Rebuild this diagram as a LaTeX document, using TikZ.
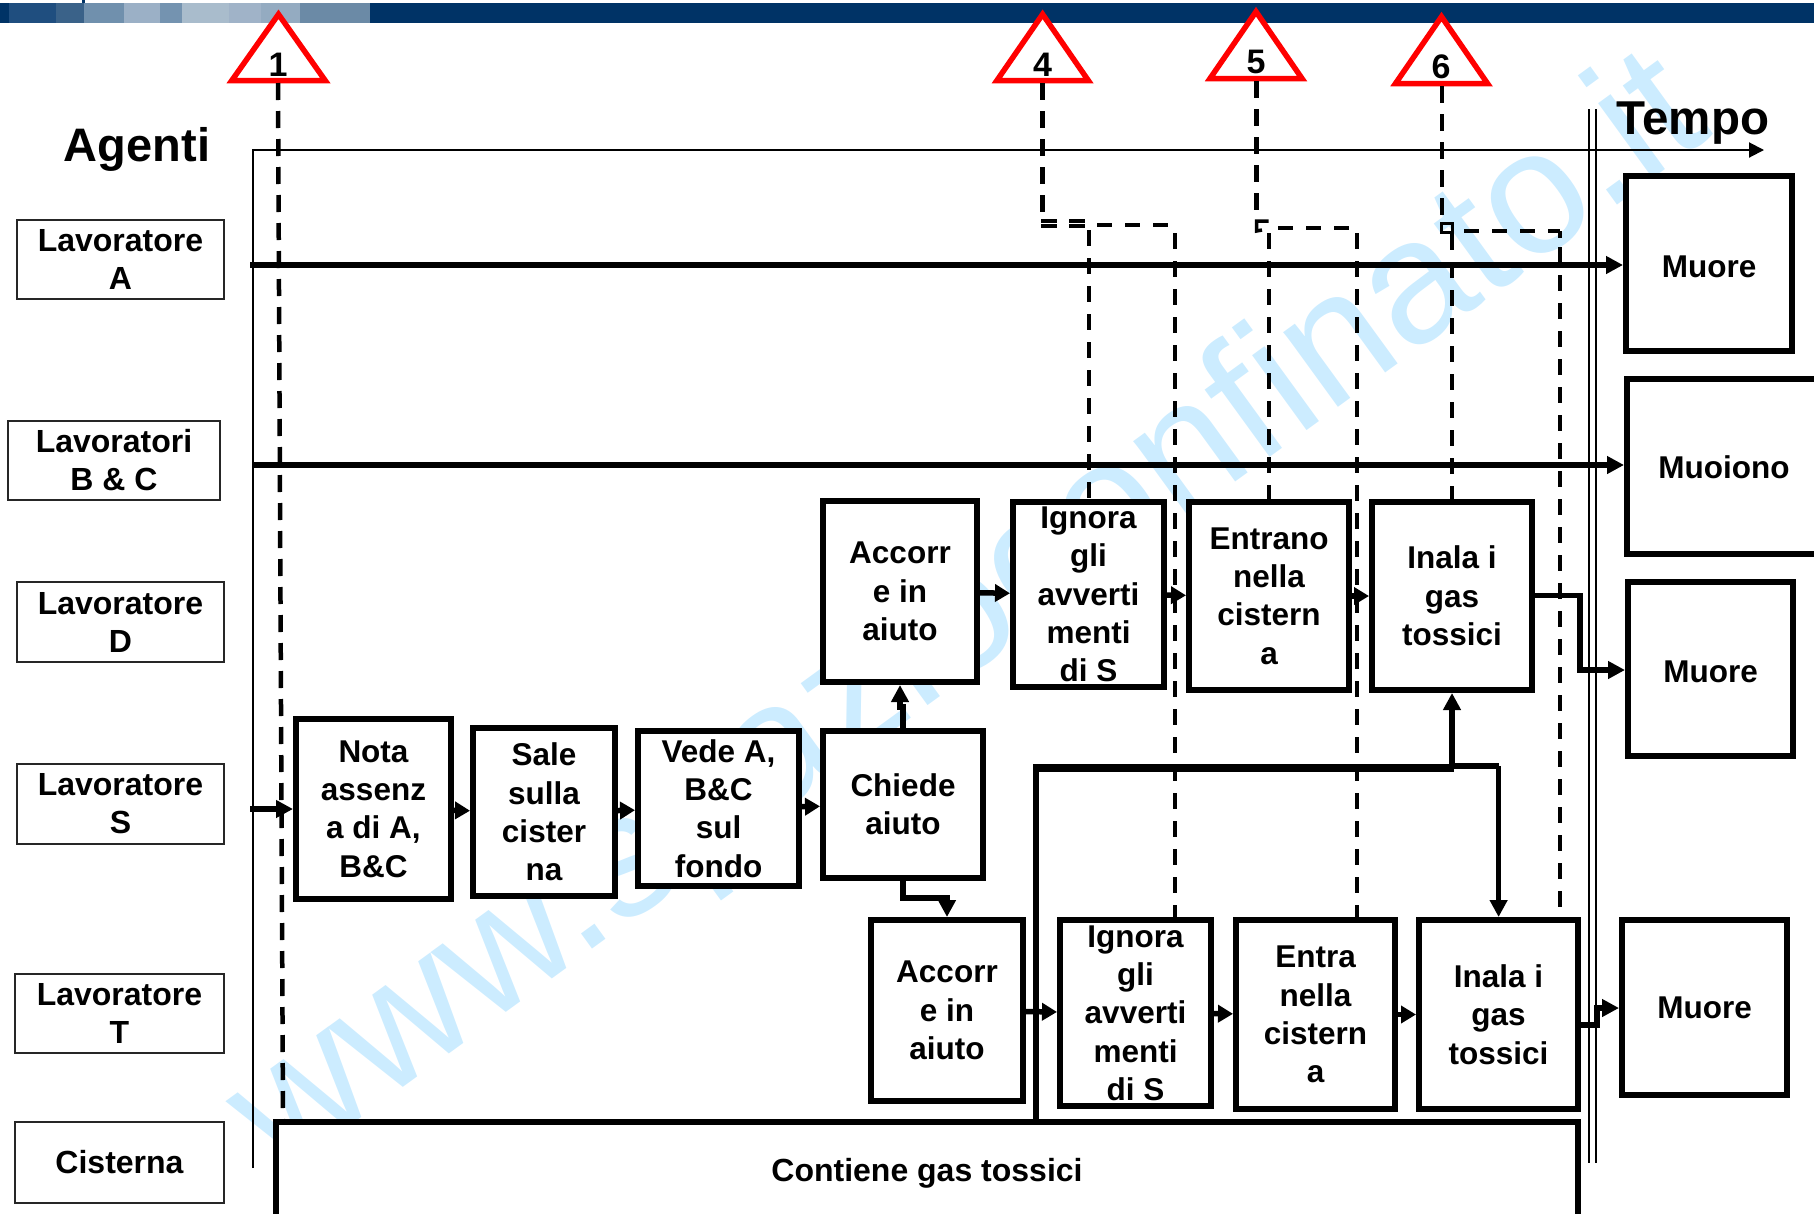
\documentclass[tikz,border=0pt]{standalone}
\usepackage{fontspec}
\setmainfont{Liberation Sans}
\usetikzlibrary{arrows.meta,calc}
\definecolor{navy}{HTML}{003366}
\definecolor{wm}{HTML}{CCECFF}
\tikzset{
  bx/.style={draw=black,line width=6pt,fill=white,inner sep=0pt,align=center,font=\fontsize{31.5}{38.3}\bfseries\selectfont},
  agentbx/.style={draw=black!85,line width=2pt,fill=white,inner sep=0pt,align=center,font=\fontsize{32}{38}\bfseries\selectfont},
  tri/.style={draw=red,line width=5.5pt,fill=white,line join=miter},
  num/.style={inner sep=0pt,font=\fontsize{34}{34}\bfseries\selectfont},
  dmain/.style={line width=4.5pt,dash pattern=on 17pt off 11pt},
  dbranch/.style={line width=4pt,dash pattern=on 16pt off 12pt},
  dhoriz/.style={line width=4pt,dash pattern=on 15pt off 13pt},
  hook/.style={line width=3.5pt},
  frameline/.style={line width=2pt},
  thick arrow/.style={line width=5.5pt,-{Triangle[length=17pt,width=17pt]}},
  head only/.style={line width=5.5pt,-{Triangle[length=15pt,width=17pt]}},
}
\newcommand{\bxn}[6]{\node[bx,minimum width={(#4-#2-6)*1pt},minimum height={(#5-#3-6)*1pt}] (#1) at ({(#2+#4)/2},{(#3+#5)/2}) {#6};}
\newcommand{\agn}[6]{\node[agentbx,minimum width={(#4-#2-2)*1pt},minimum height={(#5-#3-2)*1pt}] (#1) at ({(#2+#4)/2},{(#3+#5)/2}) {#6};}
\newcommand{\lowered}[2]{\raisebox{\dimexpr-11.3pt-#1\relax}[0pt][0pt]{#2}}
\begin{document}
\begin{tikzpicture}[x=1pt,y=-1pt]
\useasboundingbox (0,0) rectangle (1814,1213);
\clip (0,0) rectangle (1814,1213);
% watermark
\node[inner sep=0pt,rotate=36,text=wm,font=\fontsize{175.3}{176}\selectfont] (wmark) at (971,618.6) {www.spazioconfinato.it};
% top bar
\fill[navy] (0,3) rectangle (1814,23);
\foreach \a/\b/\c in {9/56/1F4E7F,56/84/3A6289,84/124/7090AD,124/160/9BB0C6,160/182/7493B0,182/229/A9BCCC,229/261/A0B3C8,261/300/94ABC1,300/370/6B8AA6}{
  \definecolor{pc}{HTML}{\c}\fill[pc] (\a,3) rectangle (\b,23);}
\fill[navy] (82,0) rectangle (84.5,3);
% triangles
\draw[tri] (278.5,14.3) -- (231.8,80.5) -- (325.2,80.5) -- cycle;
\draw[tri] (1042.6,14.3) -- (996.9,80.5) -- (1088.3,80.5) -- cycle;
\draw[tri] (1256,11.7) -- (1210,78.5) -- (1302,78.5) -- cycle;
\draw[tri] (1441.5,16.7) -- (1395.5,83.5) -- (1487.5,83.5) -- cycle;
\coordinate (t1) at (278,83);
\coordinate (t4) at (1042.6,83);
\coordinate (t5) at (1256.5,81);
\coordinate (t6) at (1442,86);
% frame lines
\coordinate (fb) at (253,1168);
\coordinate (fc) at (253,150);
\coordinate (fe) at (1764,150);
\draw[frameline,-{Triangle[length=15pt,width=15pt]}] (fb) -- (fc) -- (fe);
\coordinate (v1a) at (1589,109); \coordinate (v1b) at (1589,1163);
\coordinate (v2a) at (1595.5,109); \coordinate (v2b) at (1595.5,1163);
\draw[frameline] (v1a) -- (v1b);
\draw[frameline] (v2a) -- (v2b);
% agent boxes
\agn{la}{16}{219}{225}{300}{Lavoratore\\A}
\agn{lb}{7}{420}{221}{501}{Lavoratori\\B \& C}
\agn{ld}{16}{581}{225}{663}{Lavoratore\\D}
\agn{ls}{16}{763}{225}{845}{Lavoratore\\S}
\agn{lt}{14}{973}{225}{1054}{Lavoratore\\T}
\agn{lc}{14}{1121}{225}{1204}{Cisterna}
\node[inner sep=0pt,font=\fontsize{47}{47}\bfseries\selectfont] (agenti) at (137,149) {Agenti};
\node[inner sep=0pt,font=\fontsize{47.5}{47.5}\bfseries\selectfont] (tempo) at (1693,123.5) {Tempo};
% process boxes
\bxn{nota}{293}{716}{454}{902}{Nota\\assenz\\a di A,\\B\&C}
\bxn{sale}{470}{725}{618}{899}{Sale\\sulla\\cister\\na}
\bxn{vede}{635}{728}{802}{889}{Vede A,\\B\&C\\sul\\fondo}
\bxn{chiede}{820}{728}{986}{881}{Chiede\\aiuto}
\bxn{acc1}{820}{498}{980}{685}{Accorr\\e in\\aiuto}
\bxn{ign1}{1010}{499}{1167}{690}{Ignora\\gli\\avverti\\menti\\di S}
\bxn{ent1}{1186}{499}{1352}{693}{Entrano\\nella\\cistern\\a}
\bxn{ina1}{1369}{499}{1535}{693}{Inala i\\gas\\tossici}
\bxn{acc2}{868}{917}{1026}{1104}{Accorr\\e in\\aiuto}
\bxn{ign2}{1057}{917}{1214}{1109}{Ignora\\gli\\avverti\\menti\\di S}
\bxn{ent2}{1233}{917}{1398}{1112}{Entra\\nella\\cistern\\a}
\bxn{ina2}{1416}{917}{1581}{1112}{Inala i\\gas\\tossici}
\bxn{m1}{1623}{173}{1795}{354}{\lowered{2.5pt}{Muore}}
\bxn{m2}{1624}{376}{1824}{557}{\lowered{1pt}{Muoiono}}
\bxn{m3}{1625}{579}{1796}{759}{\lowered{2pt}{Muore}}
\bxn{m4}{1619}{917}{1790}{1098}{\lowered{0pt}{Muore}}
\bxn{cis}{273}{1119}{1581}{1223}{\lowered{-1pt}{\fontsize{32}{38}\selectfont Contiene gas tossici}}
% dashed alarm lines
\coordinate (c1end) at (283,1120);
\draw[dmain] (t1) -- (c1end);
% alarm 4
\coordinate (j4) at (1042.6,216);
\coordinate (j4a) at (1041,221);
\coordinate (j4b) at (1041,226);
\coordinate (j4c) at (1086,221);
\coordinate (j4d) at (1086,226);
\coordinate (j4e) at (1097,225);
\coordinate (j4f) at (1170,225);
\coordinate (j4r) at (1174.5,233);
\coordinate (b4) at (1088,230);
\draw[dmain] (t4) -- (j4);
\draw[hook,dash pattern=on 16pt off 12pt] (j4a) -- (j4c);
\draw[hook,dash pattern=on 16pt off 12pt] (j4b) -- (j4d);
\draw[dhoriz] (j4e) -- (j4f);
\draw[dbranch] (ign1.north |- b4) -- (ign1.north);
\draw[dbranch] (j4r) -- (j4r |- ign2.north);
% alarm 5
\coordinate (j5) at (1256.5,220);
\coordinate (k5a) at (1256.5,231);
\coordinate (k5b) at (1256.5,221);
\coordinate (k5c) at (1268.5,221);
\coordinate (k5d) at (1262,230);
\coordinate (j5s) at (1278,228);
\coordinate (j5e) at (1350,228);
\coordinate (j5r) at (1356.7,233);
\coordinate (b5) at (1268.4,233);
\draw[dmain] (t5) -- (j5);
\draw[hook] (k5c) -- (k5b) -- (k5a) -- (k5d);
\draw[dhoriz] (j5s) -- (j5e);
\draw[dbranch] (ent1.north |- b5) -- (ent1.north);
\draw[dbranch] (j5r) -- (j5r |- ent2.north);
% alarm 6
\coordinate (j6) at (1442,216);
\coordinate (s6) at (1447,228);
\coordinate (j6s) at (1464,231);
\coordinate (j6e) at (1560,231);
\coordinate (j6h) at (1560,238);
\coordinate (j6r) at (1559.5,247);
\coordinate (e6r) at (1559.5,914);
\coordinate (b6) at (1452,234);
\draw[dmain] (t6) -- (j6);
\draw[hook] ($(s6)+(-5.5,-4.5)$) rectangle ($(s6)+(5.5,4.5)$);
\draw[dhoriz] (j6s) -- (j6e);
\draw[hook] (j6e) -- (j6h);
\draw[dbranch] (ina1.north |- b6) -- (ina1.north);
\draw[dbranch] (j6r) -- (e6r);
% timelines
\coordinate (a0) at (250,265);
\coordinate (b0) at (253,465);
\coordinate (s0) at (250,809);
\draw[line width=6pt,-{Triangle[length=17pt,width=17pt]}] (a0) -- (m1.west |- a0);
\draw[thick arrow] (b0) -- (m2.west |- b0);
\draw[thick arrow] (s0) -- (nota.west |- s0);
% process arrows
\draw[head only] (nota) -- (sale);
\draw[head only] (sale) -- (vede);
\draw[head only] (vede) -- (chiede);
\draw[head only] (acc1) -- (ign1);
\draw[head only] (ign1) -- (ent1);
\draw[head only] (ent1) -- (ina1);
\draw[head only] (acc2) -- (ign2);
\draw[head only] (ign2) -- (ent2);
\draw[head only] (ent2) -- (ina2);
\coordinate (u1) at (903,707);
\coordinate (u2) at (900,707);
\draw[thick arrow] (u1 |- chiede.north) -- (u1) -- (u2) -- (u2 |- acc1.south);
\coordinate (w1) at (903,898);
\coordinate (w2) at (947,898);
\draw[thick arrow] (w1 |- chiede.south) -- (w1) -- (w2) -- (acc2.north);
\coordinate (d1) at (1580,595.5);
\coordinate (d2) at (1580,670);
\draw[thick arrow] (ina1.east |- d1) -- (d1) -- (d2) -- (m3.west |- d2);
\coordinate (g1) at (1597,1025);
\coordinate (g2) at (1597,1008);
\draw[thick arrow] (ina2.east |- g1) -- (g1) -- (g2) -- (m4.west |- g2);
% gas lines
\coordinate (h0) at (1036,768);
\coordinate (h1) at (1452,768);
\coordinate (h2) at (1498.6,766);
\draw[line width=6pt] (h0 |- cis.north) -- (h0);
\draw[line width=8.5pt] ($(h0)+(-3,0)$) -- ($(h1)+(2,0)$);
\draw[line width=5.5pt] (h1 |- h2) -- (h2);
\draw[thick arrow] (h1) -- (ina1.south);
\draw[thick arrow] (h2) -- (h2 |- ina2.north);
% numbers
\node[num] (n1) at (278,65) {1};
\node[num] (n4) at (1042.6,65) {4};
\node[num] (n5) at (1256,62) {5};
\node[num] (n6) at (1441,67) {6};
\end{tikzpicture}
\end{document}
